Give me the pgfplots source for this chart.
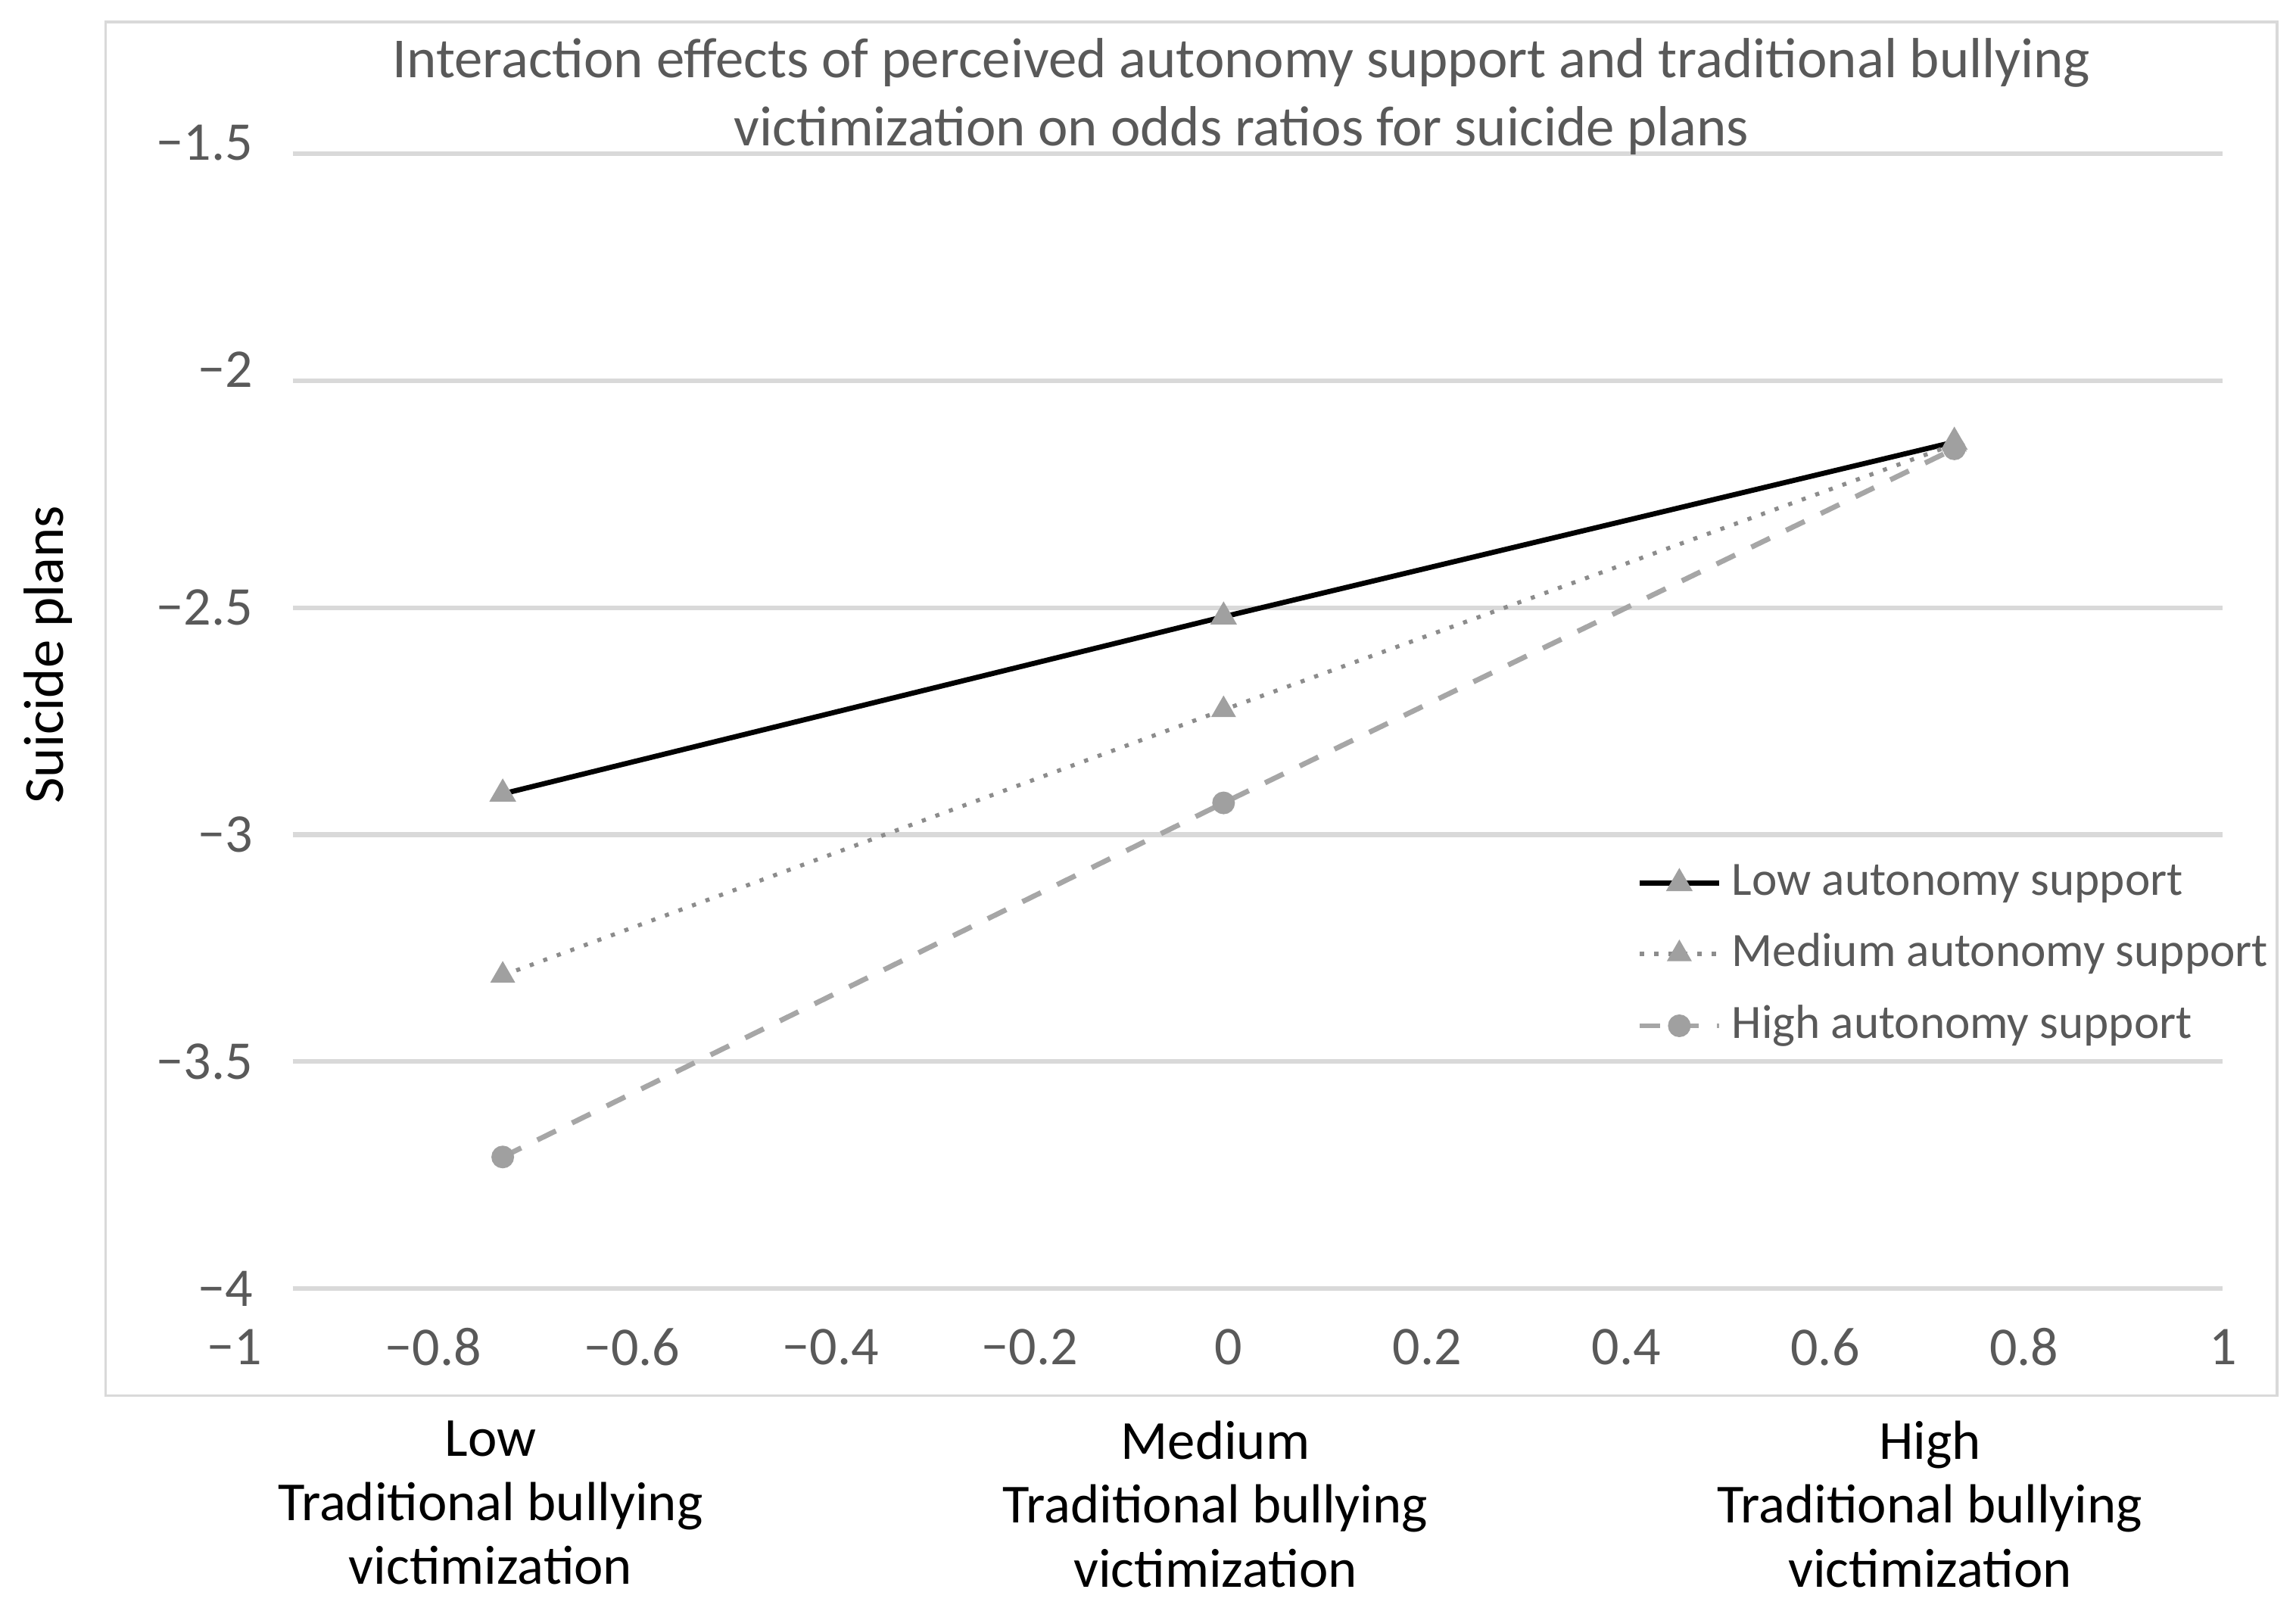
\documentclass[border=0pt]{standalone}
\usepackage{fontspec}
\setmainfont{Carlito}
\usepackage{pgfplots}
\pgfplotsset{compat=1.18}
\definecolor{gridgray}{HTML}{D9D9D9}
\definecolor{txtgray}{HTML}{595959}
\definecolor{markgray}{HTML}{A0A0A0}
\definecolor{dotgray}{HTML}{8C8C8C}
\definecolor{dashgray}{HTML}{A6A6A6}

\begin{document}
\begin{tikzpicture}
  % page size 15.68 x 11.0 cm (1 px of the 1568-wide view = 0.01 cm)
  \path[use as bounding box] (0,0) rectangle (15.68,11.0);
  \draw[gridgray, line width=0.5pt] (0.72,1.47) rectangle (15.55,10.85);
  % horizontal gridlines, -4 ... -1.5
  \foreach \v in {-4,-3.5,-3,-2.5,-2,-1.5}
    \draw[gridgray, line width=0.9pt] (2.00,{2.20+(\v+4)/2.5*7.75}) -- (15.18,{2.20+(\v+4)/2.5*7.75});
\begin{axis}[
    at={(1.60cm,2.20cm)}, anchor=south west,
    scale only axis, width=13.58cm, height=7.75cm,
    xmin=-1, xmax=1, ymin=-4, ymax=-1.5,
    axis line style={draw=none},
    major tick length=0pt,
    xtick={-1,-0.8,-0.6,-0.4,-0.2,0,0.2,0.4,0.6,0.8,1},
    xticklabels={−1,−0.8,−0.6,−0.4,−0.2,0,0.2,0.4,0.6,0.8,1},
    ytick={-4,-3.5,-3,-2.5,-2,-1.5},
    yticklabels={−4,−3.5,−3,−2.5,\raisebox{0.15cm}{−2},\raisebox{0.15cm}{−1.5}},
    tick label style={font=\fontsize{10.6}{12}\selectfont, text=txtgray},
    xticklabel style={anchor=center, yshift=-0.40cm},
    yticklabel style={anchor=east, xshift=0.25cm},
    clip=false,
    legend cell align=left,
    legend image code/.code={
      \draw[#1, mark repeat=2, mark phase=2] plot coordinates {(0cm,0cm) (0.27cm,0cm) (0.54cm,0cm)};
    },
    legend style={at={(0.705,0.384)}, anchor=north west, draw=none, fill=none,
      font=\fontsize{9.3}{11}\selectfont, text=txtgray, row sep=2pt,
      inner sep=0pt},
    ]
\addplot[black, line width=1pt, mark=triangle*, mark size=2pt,
  mark options={solid, fill=markgray, draw=markgray}] coordinates {
  (-0.73, -2.91)
  (-0.005, -2.52)
  (0.73, -2.135)
};
\addplot[dotgray, line width=0.8pt, dotted, mark=triangle*, mark size=2pt,
  mark options={solid, fill=markgray, draw=markgray}] coordinates {
  (-0.73, -3.31)
  (-0.005, -2.725)
  (0.73, -2.14)
};
\addplot[dashgray, line width=1pt, dash pattern=on 4pt off 3.5pt, mark=*, mark size=1.7pt,
  mark options={solid, fill=markgray, draw=markgray}] coordinates {
  (-0.73, -3.71)
  (-0.005, -2.93)
  (0.73, -2.15)
};
\legend{Low autonomy support, Medium autonomy support, High autonomy support}
\end{axis}
  % title
  \node[text=txtgray, font=\fontsize{11}{13.3}\selectfont, align=center] at (8.48,10.34)
    {Interaction effects of perceived autonomy support and traditional bullying\\
     victimization on odds ratios for suicide plans};
  % y label
  \node[rotate=90, font=\fontsize{11}{13}\selectfont] at (0.33,6.53) {Suicide plans};
  % category labels
  \foreach \x/\t in {3.35/Low, 8.30/Medium, 13.18/High}
    \node[font=\fontsize{10.7}{12.4}\selectfont, align=center, anchor=north] at (\x,1.42)
      {\t\\Traditional bullying\\victimization};
\end{tikzpicture}
\end{document}
